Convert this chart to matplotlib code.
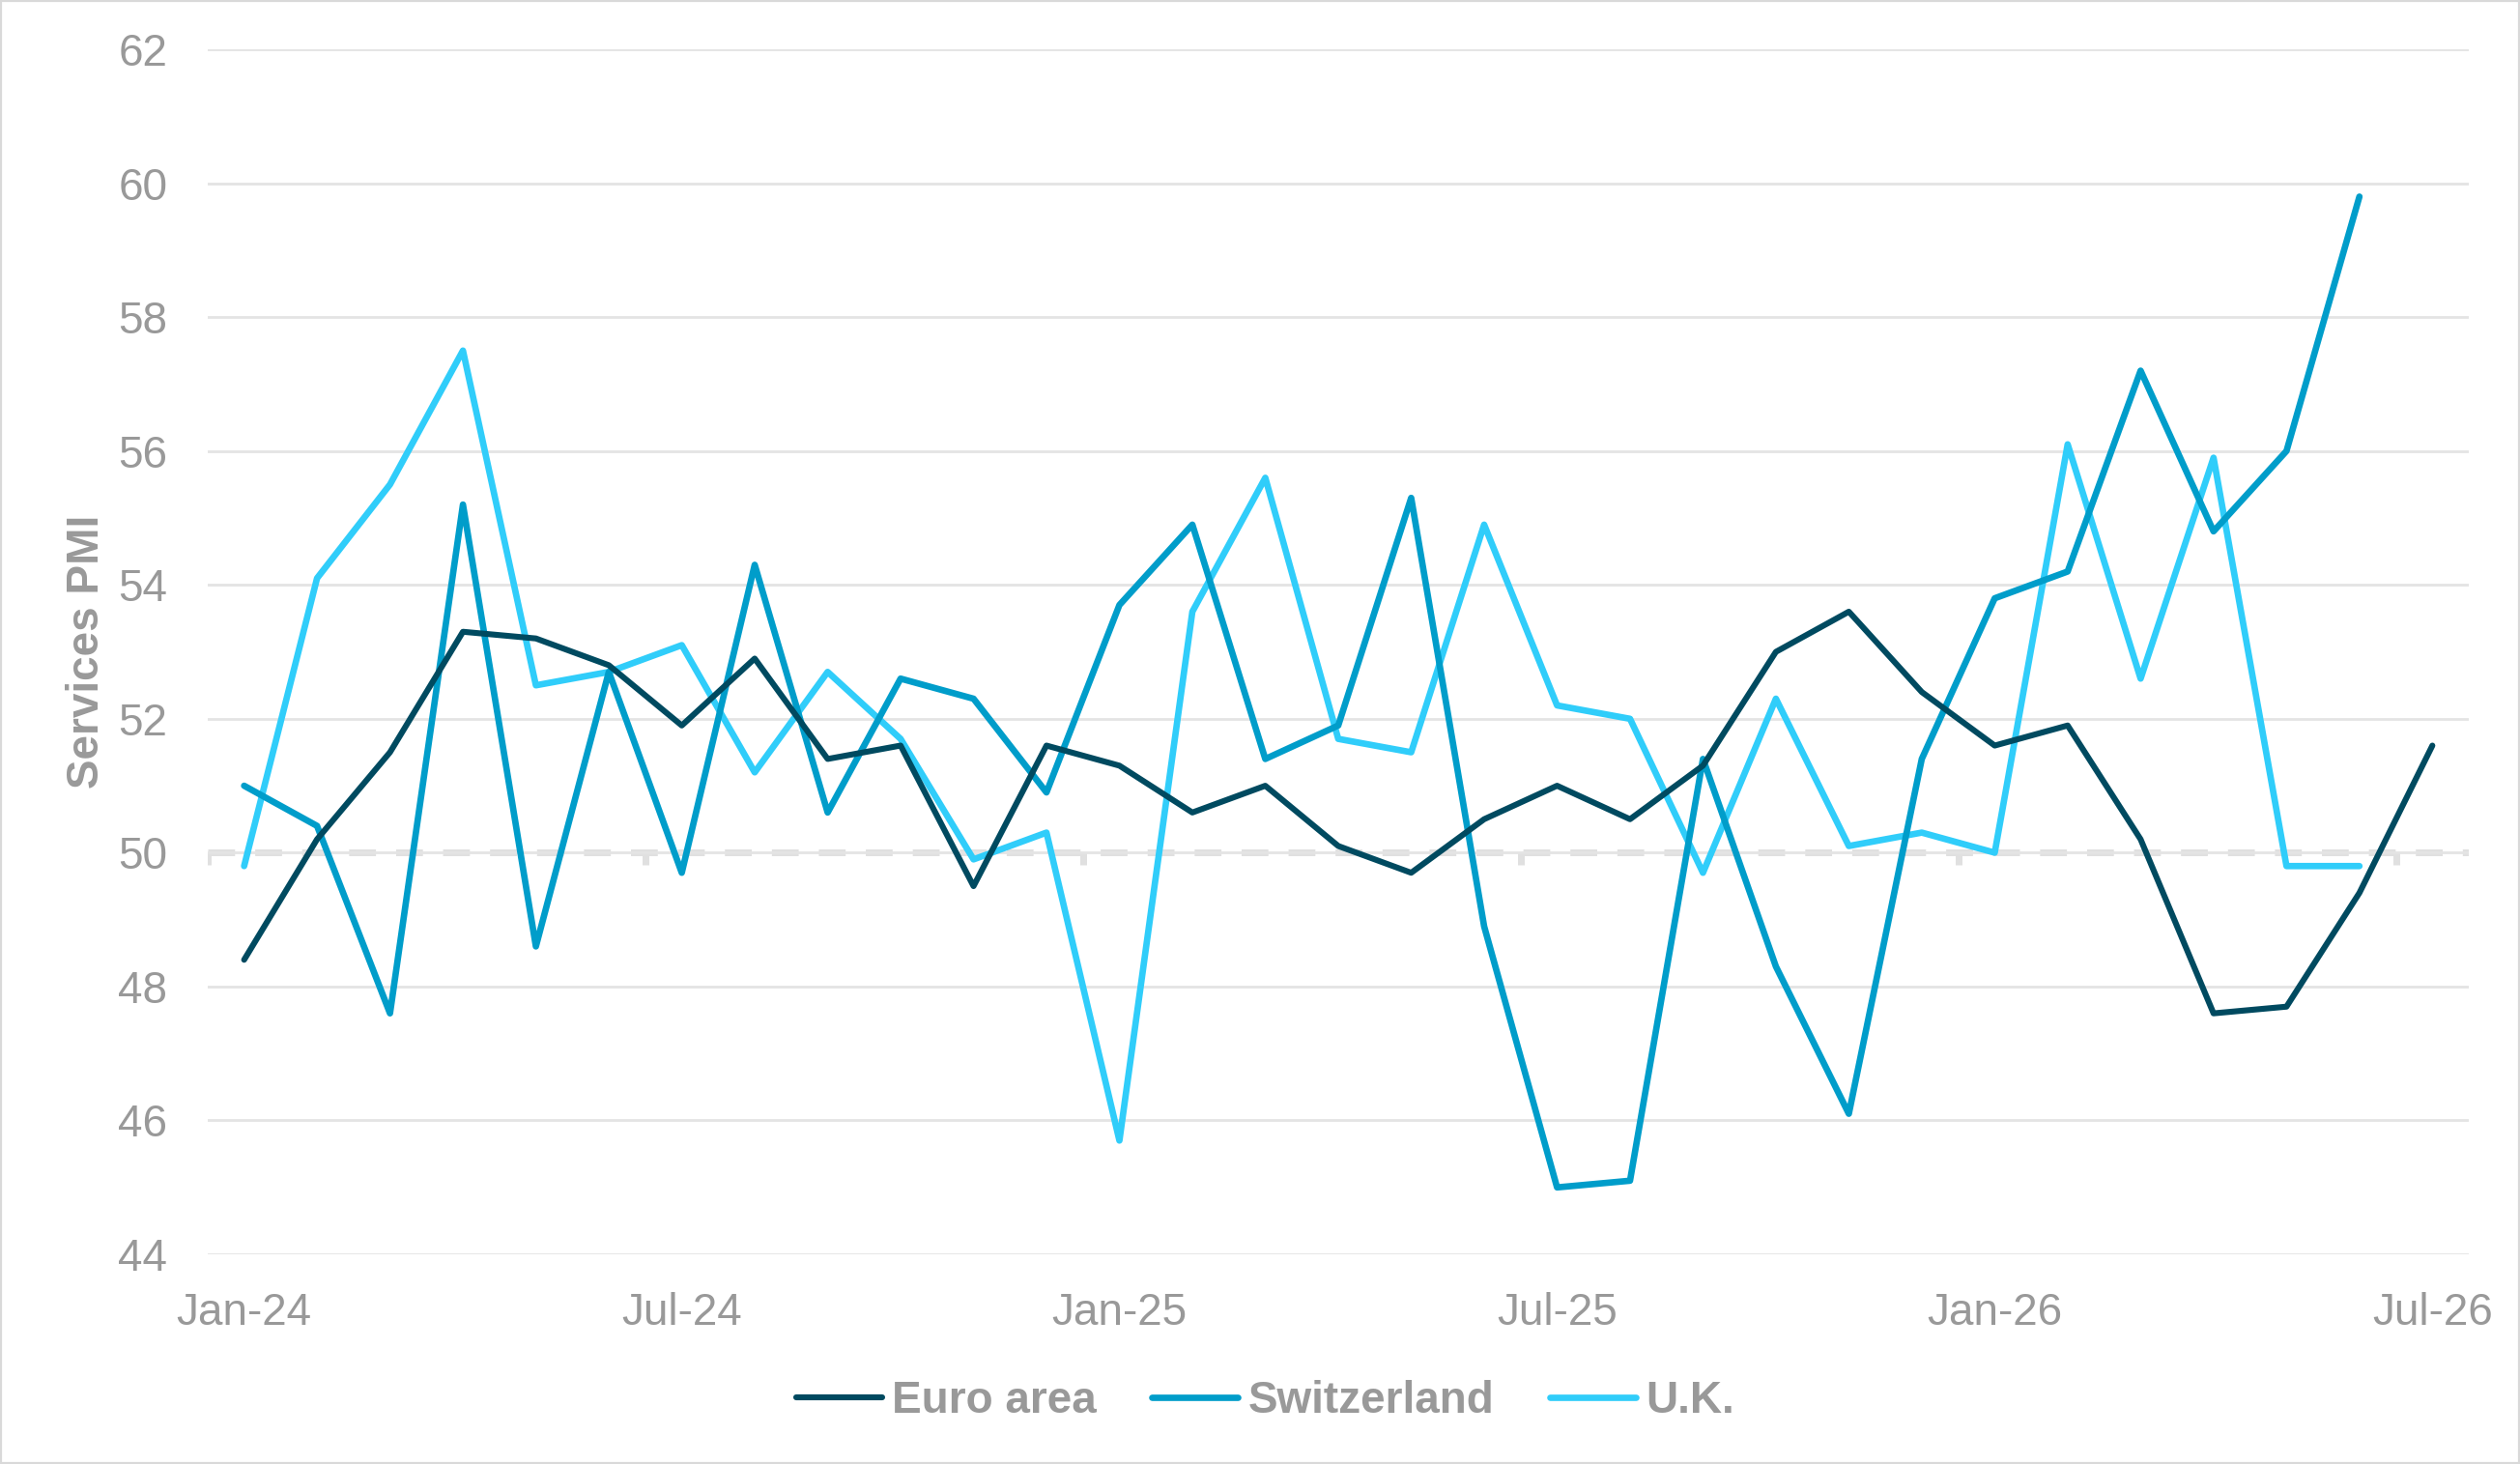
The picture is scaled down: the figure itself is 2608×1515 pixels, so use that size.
import matplotlib
matplotlib.use("Agg")
import matplotlib.pyplot as plt
from matplotlib.patches import Rectangle

plt.rcParams['font.family'] = ['Liberation Sans', 'DejaVu Sans']

tick_labels = ["Jan-24", "Jul-24", "Jan-25", "Jul-25", "Jan-26", "Jul-26"]

# Monthly values, Jan-24 onward
euro_area = [48.4, 50.2, 51.5, 53.3, 53.2, 52.8, 51.9, 52.9, 51.4, 51.6, 49.5, 51.6,
             51.3, 50.6, 51.0, 50.1, 49.7, 50.5, 51.0, 50.5, 51.3, 53.0, 53.6, 52.4,
             51.6, 51.9, 50.2, 47.6, 47.7, 49.4, 51.6]
switzerland = [51.0, 50.4, 47.6, 55.2, 48.6, 52.7, 49.7, 54.3, 50.6, 52.6, 52.3, 50.9,
               53.7, 54.9, 51.4, 51.9, 55.3, 48.9, 45.0, 45.1, 51.4, 48.3, 46.1, 51.4,
               53.8, 54.2, 57.2, 54.8, 56.0, 59.8]
uk = [49.8, 54.1, 55.5, 57.5, 52.5, 52.7, 53.1, 51.2, 52.7, 51.7, 49.9, 50.3,
      45.7, 53.6, 55.6, 51.7, 51.5, 54.9, 52.2, 52.0, 49.7, 52.3, 50.1, 50.3,
      50.0, 56.1, 52.6, 55.9, 49.8, 49.8]

c_euro = "#004A60"
c_swiss = "#009DCA"
c_uk = "#30CDFA"
gray = "#999999"

fig = plt.figure(figsize=(13.04, 7.575), dpi=200)
ax = fig.add_axes([0.0824, 0.1432, 0.8973, 0.8231])

ax.set_ylim(44, 62)
ax.set_yticks(range(44, 63, 2))
ax.set_xlim(-0.5, 30.5)
tick_pos = [6 * i for i in range(len(tick_labels))]
ax.set_xticks(tick_pos)
ax.set_xticklabels(tick_labels)

ax.grid(axis='y', color="#E4E4E4", linewidth=1.0, zorder=0)
ax.grid(axis='x', visible=False)
for s in ax.spines.values():
    s.set_visible(False)
ax.tick_params(axis='both', length=0, labelsize=16.5, labelcolor=gray)
ax.tick_params(axis='x', pad=14)
ax.tick_params(axis='y', pad=15)

# reference line at 50 with small tick marks
ax.axhline(50, color="#E0E0E0", linewidth=2.5, dashes=(4, 3), zorder=1)
ax.vlines([p - 0.5 for p in tick_pos], 49.82, 50, color="#E0E0E0", linewidth=2.5, zorder=1)

kw = dict(solid_capstyle='round', solid_joinstyle='round')
ax.plot(range(len(uk)), uk, color=c_uk, linewidth=2.4, zorder=3, label="U.K.", **kw)
ax.plot(range(len(switzerland)), switzerland, color=c_swiss, linewidth=2.4, zorder=4,
        label="Switzerland", **kw)
ax.plot(range(len(euro_area)), euro_area, color=c_euro, linewidth=2.2, zorder=5,
        label="Euro area", **kw)

handles, labels = ax.get_legend_handles_labels()
order = [2, 1, 0]
leg = fig.legend([handles[i] for i in order], [labels[i] for i in order],
                 loc='center', bbox_to_anchor=(0.502, 0.043), ncol=3, frameon=False,
                 handlelength=1.95, handletextpad=0.22, columnspacing=1.25,
                 prop={'size': 16.5, 'weight': 'bold'})
for t in leg.get_texts():
    t.set_color(gray)

fig.text(0.0345, 0.555, "Services PMI", rotation=90, ha='center', va='center',
         fontsize=16.5, fontweight='bold', color=gray)

fig.patches.append(Rectangle((0, 0), 1, 1, transform=fig.transFigure, fill=False,
                             edgecolor="#D9D9D9", linewidth=1.5))

fig.savefig("out.png", dpi=200)
